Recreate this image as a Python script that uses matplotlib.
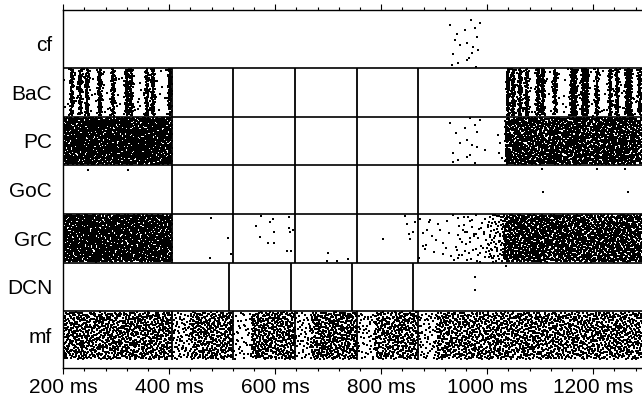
import numpy as np
import matplotlib.pyplot as plt
from matplotlib.ticker import MultipleLocator

plt.rcParams['font.family'] = ['Liberation Sans', 'DejaVu Sans']

# rows, bottom to top
rows = ["mf", "DCN", "GrC", "GoC", "PC", "BaC", "cf"]

# box borders (ms) inside each row
borders_main = [405, 520, 637, 754, 869]
borders_dcn = [513, 630, 745, 860]
row_borders = {"mf": borders_main, "DCN": borders_dcn, "GrC": borders_main,
               "GoC": borders_main, "PC": borders_main, "BaC": borders_main, "cf": []}

# dense populations: firing level (fraction of max) per time segment
mf_edges = [200, 405, 440, 520, 555, 637, 668, 754, 788, 869, 905, 1292]
mf_level = [0.52, 0.22, 0.52, 0.12, 0.55, 0.16, 0.55, 0.16, 0.5, 0.18, 0.48]
grc_edges = [200, 405, 869, 940, 1000, 1030, 1292]
grc_level = [0.95, 0.0, 0.03, 0.08, 0.22, 0.8]
pc_edges = [200, 405, 1034, 1292]
pc_level = [1.0, 0.0, 0.75]
bac_edges = [200, 405, 1036, 1292]
bac_level = [0.03, 0.0, 0.03]

# synchronous burst columns (ms)
bac_bursts = [216, 232, 245, 269, 294, 320, 328, 358, 369, 401,
              1039, 1049, 1062, 1075, 1096, 1105, 1128, 1160, 1166, 1181,
              1188, 1207, 1232, 1245, 1264, 1270, 1288]
pc_bursts = [1035, 1061, 1080, 1102, 1122, 1131, 1150, 1169, 1181, 1206,
             1222, 1235, 1250, 1260, 1276]

# single spikes that can be read one by one (ms, row position)
cf_t = [930, 969, 987, 942, 958, 977, 939, 980, 949, 961, 974, 983, 935, 971, 944, 961, 966, 934, 979]
cf_y = [6.88, 6.98, 6.92, 6.69, 6.77, 6.81, 6.57, 6.64, 6.47, 6.51, 6.43, 6.36, 6.28, 6.31, 6.10, 6.16, 6.21, 6.06, 6.02]
pc_t = [930, 941, 958, 967, 977, 986, 949, 961, 971, 980, 935, 945, 967, 961, 977, 935, 996, 980, 1021, 1024, 1022, 1027]
pc_y = [4.86, 4.66, 4.76, 4.96, 4.83, 4.92, 4.46, 4.52, 4.41, 4.38, 4.26, 4.11, 4.21, 4.17, 4.04, 4.06, 4.31, 4.69, 4.62, 4.45, 4.25, 4.14]
goc_t = [247, 323, 1103, 1207, 1260, 1106, 1265]
goc_y = [3.90, 3.90, 3.92, 3.92, 3.92, 3.46, 3.46]
grc_t = [479, 511, 477, 516, 574, 590, 596, 564, 625, 598, 625, 627, 571, 587, 598, 622, 630, 633,
         700, 698, 716, 738, 845, 848, 863, 852, 854, 804, 860]
grc_y = [2.91, 2.50, 2.10, 2.18, 2.96, 2.84, 2.89, 2.76, 2.94, 2.63, 2.72, 2.63, 2.52, 2.40, 2.40, 2.24, 2.24, 2.67,
         2.19, 2.04, 2.04, 2.07, 2.95, 2.79, 2.83, 2.58, 2.48, 2.48, 2.63]
dcn_t = [976, 976, 1036]
dcn_y = [1.71, 1.44, 1.93]


def radical_inverse(i, base):
    i = i.copy()
    f = 1.0
    r = np.zeros(len(i))
    while np.any(i > 0):
        f /= base
        r += f * (i % base)
        i //= base
    return r


def texture(row, edges, level, bursts=(), amp=0.0, width=2.5, n=11000, offset=0):
    # deterministic Halton sampling thinned by the firing level
    i = np.arange(offset + 1, offset + n + 1)
    ut, uy, ua = radical_inverse(i, 2), radical_inverse(i, 3), radical_inverse(i, 5)
    t = edges[0] + ut * (edges[-1] - edges[0])
    idx = np.clip(np.searchsorted(edges, t, side='right') - 1, 0, len(level) - 1)
    d = np.asarray(level, float)[idx]
    on = d > 0
    for c in bursts:
        d = d + amp * np.exp(-0.5 * ((t - c) / width) ** 2) * on
    keep = ua < np.clip(d, 0, 1)
    return t[keep], row + 0.02 + 0.96 * uy[keep]


fig = plt.figure(figsize=(6.42, 4.01), dpi=100)
ax = fig.add_axes([63.3 / 642, 33 / 401, 1 - 63.3 / 642, 358 / 401])

layers = [
    texture(0, mf_edges, mf_level, offset=1000),
    texture(2, grc_edges, grc_level, offset=40000),
    texture(4, pc_edges, pc_level, pc_bursts, amp=0.5, width=2.0, offset=80000),
    texture(5, bac_edges, bac_level, bac_bursts, amp=1.0, width=2.2, n=16000, offset=120000),
]
for t, y in layers:
    ax.scatter(t, y, s=2.0, marker='s', c='k', linewidths=0)

for t, y in [(cf_t, cf_y), (pc_t, pc_y), (goc_t, goc_y), (grc_t, grc_y), (dcn_t, dcn_y)]:
    ax.scatter(t, y, s=4, marker='s', c='k', linewidths=0)

# box outlines
for k in range(1, 7):
    ax.axhline(k, color='k', lw=1.2)
for r, name in enumerate(rows):
    if row_borders[name]:
        ax.vlines(row_borders[name], r, r + 1, color='k', lw=1.3)

ax.set_xlim(200, 1292)
ax.set_ylim(-0.164, 7.187)

ax.set_xticks(range(200, 1300, 200))
ax.set_xticklabels([f"{v} ms" for v in range(200, 1300, 200)], fontsize=15)
ax.xaxis.set_minor_locator(MultipleLocator(40))
ax.tick_params(axis='x', which='both', top=True, direction='out', width=0.8, pad=3)
ax.tick_params(axis='x', which='major', length=4)
ax.tick_params(axis='x', which='minor', length=2)

ax.set_yticks([r + 0.5 for r in range(len(rows))])
ax.set_yticklabels(rows, fontsize=15)
ax.tick_params(axis='y', length=0, pad=8)

ax.spines['right'].set_visible(False)
for s in ['left', 'top', 'bottom']:
    ax.spines[s].set_linewidth(1.0)

fig.savefig("out.png", dpi=100)
